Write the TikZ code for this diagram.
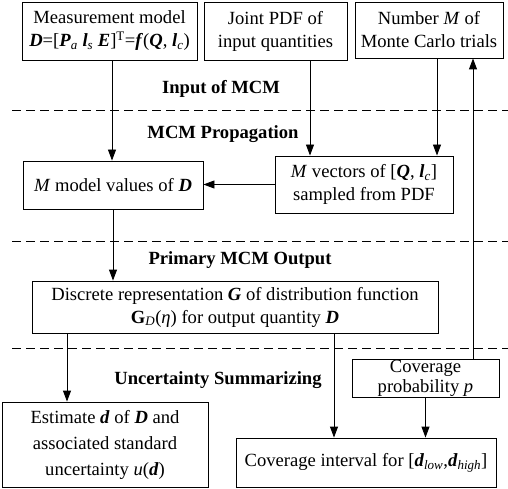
\documentclass[tikz,border=0pt]{standalone}
\usepackage{fontspec}
\setmainfont{Liberation Serif}
\usetikzlibrary{arrows.meta}
\newcommand\bfit[1]{\textbf{\textit{#1}}}
\begin{document}
\begin{tikzpicture}[x=1pt,y=-1pt,
  box/.style={draw,line width=0.9pt,align=center,inner sep=0pt,font=\fontsize{18.6}{23}\selectfont},
  lbl/.style={font=\fontsize{18.6}{23}\selectfont\bfseries},
  arr/.style={line width=0.9pt,-{Triangle[length=11pt,width=8pt]}},
  ln/.style={line width=0.9pt},
  sep/.style={line width=0.9pt,dash pattern=on 9pt off 5pt}]
\useasboundingbox (0,0) rectangle (508,489);
\node[box,minimum width=175pt,minimum height=58pt] (mm) at (109.5,31) {Measurement model\\\bfit{D}=[\bfit{P}\textsubscript{\textit{a}} \bfit{l}\textsubscript{\textit{s}} \bfit{E}]\textsuperscript{T}=\bfit{f}(\bfit{Q}, \bfit{l}\textsubscript{\textit{c}})};
\node[box,minimum width=143pt,minimum height=58pt] (pdf) at (275.5,31) {Joint PDF of\\input quantities};
\node[box,minimum width=148pt,minimum height=56pt] (num) at (429,30) {Number \textit{M} of\\Monte Carlo trials};
\node[box,minimum width=180pt,minimum height=48pt] (mv) at (113,185) {\textit{M} model values of \bfit{D}};
\node[box,minimum width=178pt,minimum height=57pt] (vec) at (364,184.5) {\textit{M} vectors of [\bfit{Q}, \bfit{l}\textsubscript{\textit{c}}]\\sampled from PDF};
\node[box,minimum width=406pt,minimum height=52pt] (disc) at (235,307) {Discrete representation \bfit{G} of distribution function\\\textbf{G}\textsubscript{\textit{D}}(\textit{η}) for output quantity \bfit{D}};
\node[box,minimum width=147pt,minimum height=38pt,font=\fontsize{18.6}{20}\selectfont] (cp) at (425.5,378) {Coverage\\probability \textit{p}};
\node[box,minimum width=206pt,minimum height=85pt,font=\fontsize{18.6}{26}\selectfont] (est) at (105,444.5) {Estimate \bfit{d} of \bfit{D} and\\associated standard\\uncertainty \textit{u}(\bfit{d})};
\node[box,minimum width=260pt,minimum height=49pt] (ci) at (366,462.5) {Coverage interval for [\bfit{d}\textsubscript{\textit{low}},\bfit{d}\textsubscript{\textit{high}}]};
\node[lbl] (l1) at (221,89) {Input of MCM};
\node[lbl] (l2) at (223,134) {MCM Propagation};
\node[lbl] (l3) at (240,260) {Primary MCM Output};
\node[lbl] (l4) at (218,380) {Uncertainty Summarizing};
\coordinate (s1a) at (12,110); \coordinate (s1b) at (508,110);
\coordinate (s2a) at (12,241); \coordinate (s2b) at (508,241);
\coordinate (s3a) at (12,348); \coordinate (s3b) at (508,348);
\draw[sep] (s1a) -- (s1b);
\draw[sep] (s2a) -- (s2b);
\draw[sep] (s3a) -- (s3b);
\draw[arr] (mm.south -| 112,0) -- (mv.north -| 112,0);
\draw[arr] (pdf.south -| 310,0) -- (vec.north -| 310,0);
\draw[arr] (num.south -| 437,0) -- (vec.north -| 437,0);
\draw[arr] (cp.north -| 473,0) -- (num.south -| 473,0);
\draw[arr] (vec.west) -- (mv.east |- vec.west);
\draw[arr] (mv.south) -- (disc.north -| mv.south);
\draw[arr] (disc.south -| 67,0) -- (est.north -| 67,0);
\draw[arr] (disc.south -| 334,0) -- (ci.north -| 334,0);
\draw[arr] (cp.south) -- (ci.north -| cp.south);
\end{tikzpicture}
\end{document}
